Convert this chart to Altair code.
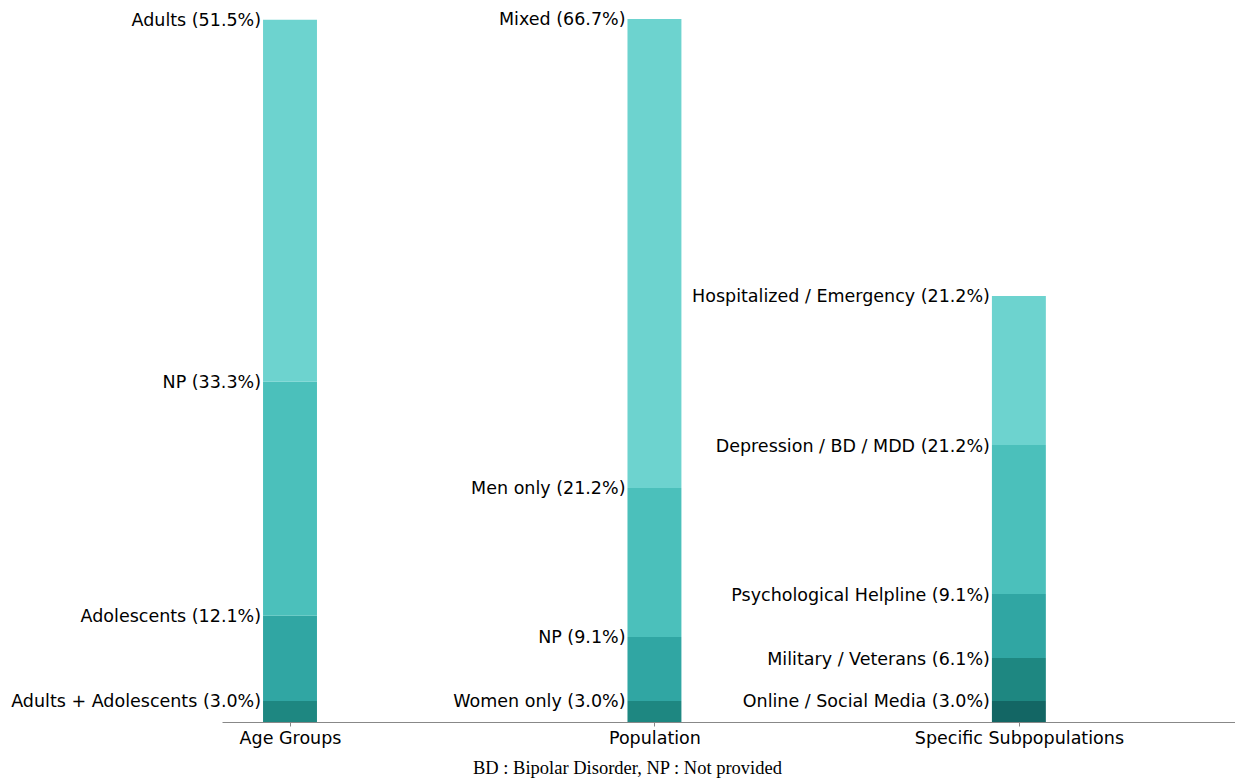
import altair as alt
import pandas as pd

categories = ["Age Groups", "Population", "Specific Subpopulations"]

age_labels = ["Adults + Adolescents", "Adolescents", "NP", "Adults"]
age_values = [3.0, 12.1, 33.3, 51.5]

pop_labels = ["Women only", "NP", "Men only", "Mixed"]
pop_values = [3.0, 9.1, 21.2, 66.7]

spec_labels = ["Online / Social Media", "Military / Veterans", "Psychological Helpline",
               "Depression / BD / MDD", "Hospitalized / Emergency"]
spec_values = [3.0, 6.1, 9.1, 21.2, 21.2]

palette = ["#6dd3cf", "#4bc0bb", "#30a6a3", "#1e8781", "#136664"]

footnote = "BD : Bipolar Disorder, NP : Not provided"

rows = []
for ci, (labs, vals) in enumerate([(age_labels, age_values), (pop_labels, pop_values), (spec_labels, spec_values)]):
    n = len(labs)
    for i, (l, v) in enumerate(zip(labs, vals)):
        rows.append({"cat": categories[ci], "xpos": ci, "idx": i, "rank": n - 1 - i,
                     "label": l, "value": v})
df = pd.DataFrame(rows)

half = 0.074
label_expr = " : ".join(
    [f"datum.value == {i} ? '{c}'" for i, c in enumerate(categories[:-1])]
) + f" : '{categories[-1]}'"

xscale = alt.Scale(domain=[-0.1866, 2.593], nice=False, zero=False)
yscale = alt.Scale(domain=[0, 101.56], nice=False)

base = alt.Chart(df).transform_stack(
    stack="value", groupby=["cat"], sort=[alt.SortField("idx", order="ascending")], as_=["y0", "y1"]
).transform_calculate(
    xl=f"datum.xpos - {half}", xr=f"datum.xpos + {half}",
    txt="datum.label + ' (' + format(datum.value, '.1f') + '%)'"
)

bars = base.mark_bar(stroke=None).encode(
    x=alt.X("xl:Q", scale=xscale,
            axis=alt.Axis(values=[0, 1, 2], labelExpr=label_expr, title=None, grid=False,
                          domainColor="#888888", tickColor="#888888", tickSize=4,
                          labelFontSize=17.5, labelFont="DejaVu Sans", labelColor="#000000",
                          labelPadding=3, labelFlush=False, domainWidth=1, labelLimit=0)),
    x2="xr:Q",
    y=alt.Y("y0:Q", scale=yscale, axis=None),
    y2="y1:Q",
    color=alt.Color("rank:O", scale=alt.Scale(domain=[0, 1, 2, 3, 4], range=palette), legend=None),
)

texts = base.mark_text(align="right", baseline="middle", dx=-2, dy=1.5, fontSize=17.5,
                       font="DejaVu Sans", color="#000000").encode(
    x=alt.X("xl:Q", scale=xscale),
    y=alt.Y("y1:Q", scale=yscale),
    text="txt:N",
)

chart = alt.layer(bars, texts).properties(
    width=1013, height=714,
    autosize=alt.AutoSizeParams(type="none"),
    padding={"left": 214, "top": 0, "right": 0, "bottom": 57},
    title=alt.TitleParams(footnote, orient="bottom", anchor="middle", dx=-101, offset=12,
                          font="Liberation Serif", fontSize=18.5, fontWeight="normal",
                          color="#000000"),
).configure_view(stroke=None)

chart.save("out.html", embed_options={"renderer": "svg", "actions": False})
